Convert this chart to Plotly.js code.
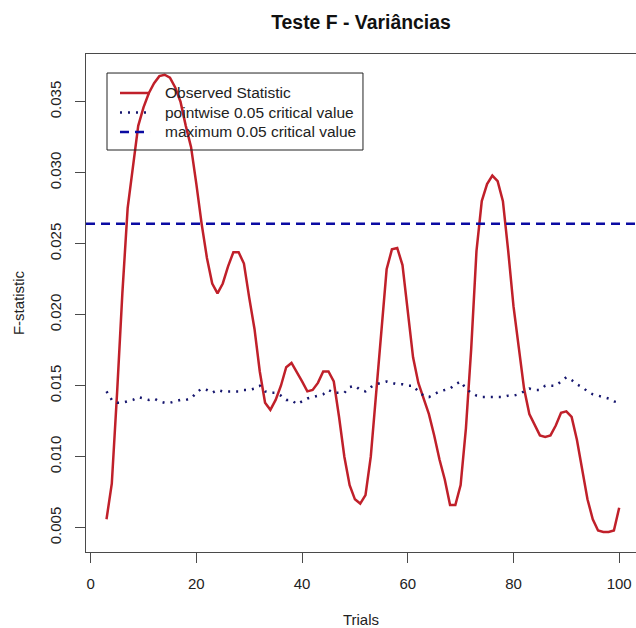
<!DOCTYPE html>
<html>
<head>
<meta charset="utf-8">
<script src="https://cdn.plot.ly/plotly-3.0.1.min.js"></script>
<style>html,body{margin:0;padding:0;background:#fff;}#chart{width:636px;height:628px;}</style>
</head>
<body>
<div id="chart"></div>
<script>
// ---- data ----
const trials = [3,4,5,6,7,8,9,10,11,12,13,14,15,16,17,18,19,20,21,22,23,24,25,26,27,28,29,30,31,32,33,34,35,36,37,38,39,40,41,42,43,44,45,46,47,48,49,50,51,52,53,54,55,56,57,58,59,60,61,62,63,64,65,66,67,68,69,70,71,72,73,74,75,76,77,78,79,80,81,82,83,84,85,86,87,88,89,90,91,92,93,94,95,96,97,98,99,100];
const observed = [0.0056,0.0081,0.0145,0.0215,0.0275,0.0305,0.0333,0.0346,0.0356,0.0363,0.0368,0.0369,0.0367,0.0360,0.0350,0.0333,0.0318,0.0292,0.0264,0.0240,0.0222,0.0215,0.0222,0.0234,0.0244,0.0244,0.0236,0.0212,0.0190,0.0160,0.0138,0.0133,0.0140,0.0150,0.0163,0.0166,0.0160,0.0153,0.0146,0.0147,0.0152,0.0160,0.0160,0.0153,0.0128,0.0100,0.0080,0.0070,0.0067,0.0073,0.0100,0.0145,0.0190,0.0232,0.0246,0.0247,0.0235,0.0203,0.0170,0.0152,0.0141,0.0130,0.0115,0.0098,0.0084,0.0066,0.0066,0.0080,0.0120,0.0176,0.0245,0.0280,0.0292,0.0298,0.0294,0.0280,0.0245,0.0206,0.0177,0.0148,0.0130,0.0122,0.0115,0.0114,0.0115,0.0122,0.0131,0.0132,0.0128,0.0112,0.0090,0.0070,0.0056,0.0048,0.0047,0.0047,0.0048,0.0064];
const pointwise = [0.0146,0.0140,0.0138,0.0138,0.0139,0.0140,0.0142,0.0141,0.0140,0.0141,0.0139,0.0138,0.0138,0.0139,0.0140,0.0140,0.0141,0.0145,0.0148,0.0147,0.0145,0.0147,0.0146,0.0146,0.0146,0.0146,0.0147,0.0147,0.0148,0.0150,0.0146,0.0145,0.0145,0.0143,0.0140,0.0140,0.0137,0.0139,0.0141,0.0142,0.0143,0.0144,0.0147,0.0145,0.0145,0.0145,0.0149,0.0150,0.0147,0.0146,0.0149,0.0151,0.0152,0.0153,0.0152,0.0151,0.0151,0.0150,0.0150,0.0146,0.0143,0.0142,0.0144,0.0146,0.0147,0.0148,0.0151,0.0153,0.0148,0.0145,0.0143,0.0142,0.0142,0.0142,0.0142,0.0142,0.0143,0.0143,0.0144,0.0146,0.0148,0.0147,0.0147,0.0150,0.0150,0.0150,0.0153,0.0156,0.0154,0.0151,0.0149,0.0146,0.0144,0.0143,0.0142,0.0141,0.0139,0.0138];
const maxCritical = 0.0264;
const xTicks = [0,20,40,60,80,100];
const yTicks = [0.005,0.010,0.015,0.020,0.025,0.030,0.035];
const yTickText = ["0.005","0.010","0.015","0.020","0.025","0.030","0.035"];
const seriesNames = ["Observed Statistic","pointwise 0.05 critical value","maximum 0.05 critical value"];
const titleText = "Teste F - Variâncias";
const xTitle = "Trials";
const yTitle = "F-statistic";

const xRange = [-0.88, 103.18];
const yRange = [0.00329, 0.03836];

const font = "'Liberation Sans', Arial, sans-serif";
const axisCol = "#4a4a4a";
const txtCol = "#222";

const styles = [
  {color: '#c0202a', width: 2.5, dash: 'solid'},
  {color: '#16166e', width: 2.5, dash: '2px,6px'},
  {color: '#0b0ba2', width: 2.5, dash: '9px,6px'}
];

const traces = [
  {x: trials, y: observed, name: seriesNames[0], type: 'scatter', mode: 'lines', line: styles[0], showlegend: false},
  {x: trials, y: pointwise, name: seriesNames[1], type: 'scatter', mode: 'lines', line: styles[1], showlegend: false},
  {x: xRange, y: [maxCritical, maxCritical], name: seriesNames[2], type: 'scatter', mode: 'lines', line: styles[2], showlegend: false}
];

// legend drawn as an R-style transparent box (paper coordinates)
const leg = {x0: 0.0382, x1: 0.5036, y0: 0.8072, y1: 0.9618, sx0: 0.0618, sx1: 0.1164, tx: 0.14, rows: [0.9217, 0.8825, 0.8434]};
const shapes = [
  {type: 'rect', xref: 'paper', yref: 'paper', x0: leg.x0, x1: leg.x1, y0: leg.y0, y1: leg.y1,
   line: {color: '#222', width: 1}, fillcolor: 'rgba(0,0,0,0)', layer: 'above'}
];
const annotations = [];
seriesNames.forEach((nm, i) => {
  shapes.push({type: 'line', xref: 'paper', yref: 'paper', x0: leg.sx0, x1: leg.sx1, y0: leg.rows[i], y1: leg.rows[i],
               line: styles[i], layer: 'above'});
  annotations.push({xref: 'paper', yref: 'paper', x: leg.tx, y: leg.rows[i], xanchor: 'left', yanchor: 'middle',
                    text: nm, showarrow: false, font: {family: font, size: 15.5, color: txtCol}});
});

const layout = {
  width: 636, height: 628,
  margin: {l: 86, r: 0, t: 54, b: 76},
  paper_bgcolor: '#ffffff', plot_bgcolor: '#ffffff',
  font: {family: font, size: 15, color: txtCol},
  title: {text: '<b>' + titleText + '</b>', font: {family: font, size: 19.4, color: '#111'},
          x: 0.5, xref: 'paper', y: 0.965, yref: 'container', yanchor: 'middle'},
  showlegend: false,
  shapes: shapes,
  annotations: annotations,
  xaxis: {range: xRange, tickvals: xTicks, ticks: 'outside', ticklen: 10, tickcolor: axisCol,
          showline: true, mirror: true, linecolor: axisCol, linewidth: 1, showgrid: false, zeroline: false,
          ticklabelstandoff: 8, tickfont: {size: 15, color: txtCol},
          title: {text: xTitle, font: {size: 15, color: txtCol}, standoff: 24}},
  yaxis: {range: yRange, tickvals: yTicks, ticktext: yTickText, ticks: 'outside', ticklen: 10, tickcolor: axisCol,
          showline: true, mirror: false, linecolor: axisCol, linewidth: 1, showgrid: false, zeroline: false,
          tickangle: -90, ticklabelstandoff: 8, tickfont: {size: 15, color: txtCol},
          title: {text: yTitle, font: {size: 15, color: txtCol}, standoff: 18}},
  hovermode: false
};

Plotly.newPlot('chart', traces, layout, {staticPlot: true, displayModeBar: false});
</script>
</body>
</html>
